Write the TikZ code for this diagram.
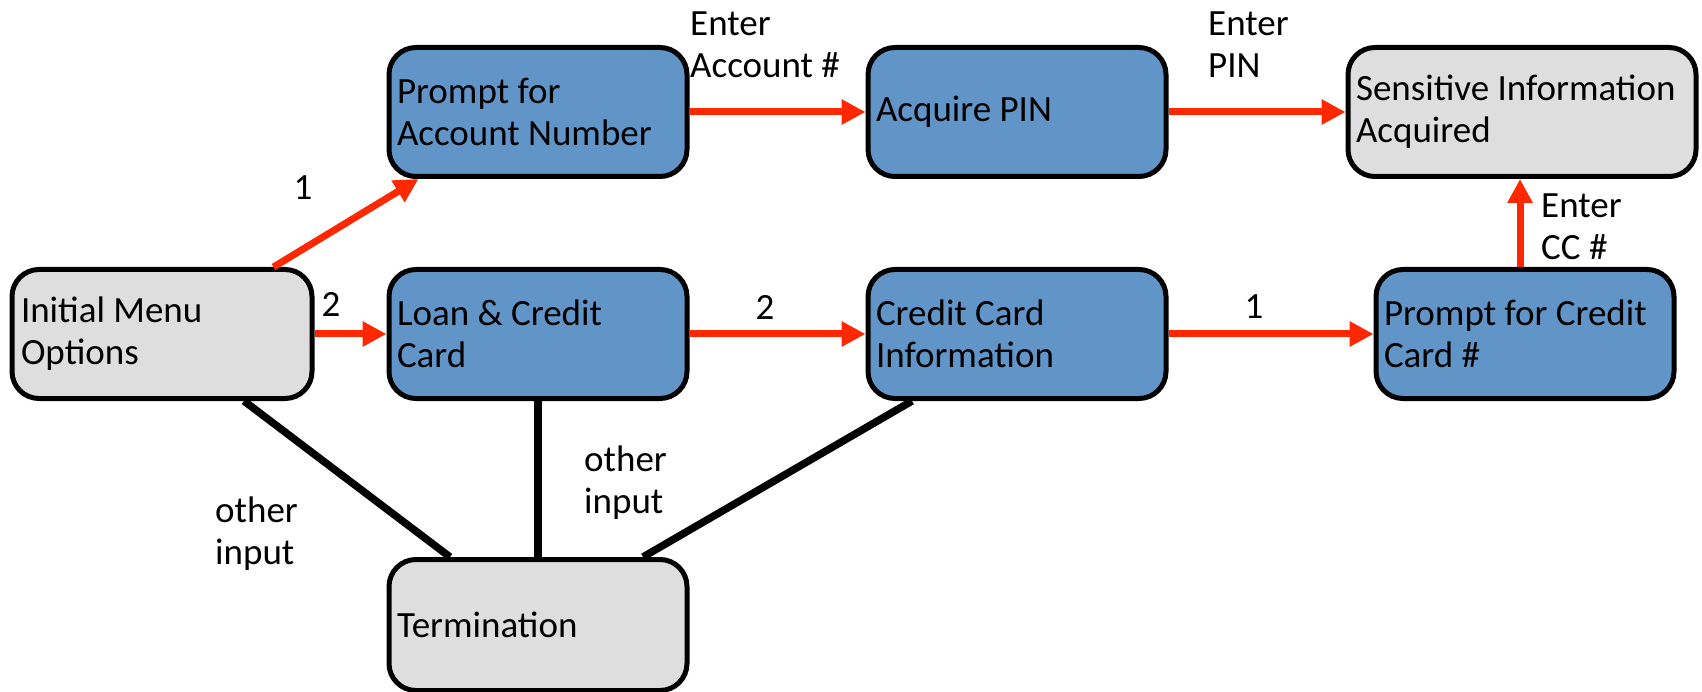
\documentclass[tikz,border=0pt]{standalone}
\usepackage{fontspec}
\setmainfont{Carlito}
\usetikzlibrary{arrows.meta}
\definecolor{boxblue}{HTML}{6195C8}
\definecolor{boxgray}{HTML}{DEDEDE}
\definecolor{flowred}{RGB}{255,40,0}
\tikzset{
  statebox/.style={draw=black, line width=5pt, rounded corners=27pt,
    minimum width=298pt, minimum height=129pt, text width=282pt,
    inner xsep=8pt, align=flush left, font=\fontsize{37}{42}\selectfont},
  bluebox/.style={statebox, fill=boxblue},
  graybox/.style={statebox, fill=boxgray},
  flow/.style={draw=flowred, line width=7pt, -{Triangle[length=24pt,width=24pt]}},
  quit/.style={draw=black, line width=7.5pt},
  lbl/.style={align=flush left, inner sep=0pt, font=\fontsize{37}{42}\selectfont},
}
\begin{document}
\begin{tikzpicture}[x=1pt, y=-1pt]
\useasboundingbox (0,0) rectangle (1702,692);

% states
\node[bluebox] (acct) at (538,112) {Prompt for\\Account Number};
\node[bluebox] (pin) at (1017,112) {Acquire PIN};
\node[graybox, minimum width=348pt, text width=332pt] (sens) at (1522,112) {Sensitive Information\\Acquired};
\node[graybox, minimum width=300pt] (init) at (162,334) {Initial Menu\\Options};
\node[bluebox] (loan) at (538,334) {Loan \& Credit\\Card};
\node[bluebox] (ccinfo) at (1017,334) {Credit Card\\Information};
\node[bluebox] (pcc) at (1525,334) {Prompt for Credit\\Card \#};
\node[graybox, minimum height=131pt] (term) at (538,625) {Termination};

% transitions on valid input
\draw[flow] ([xshift=-41pt]init.north east) -- ([xshift=32pt]acct.south west);
\draw[flow] (init.east) -- (loan.west);
\draw[flow] (acct.east) -- (pin.west);
\draw[flow] (pin.east) -- (sens.west);
\draw[flow] (loan.east) -- (ccinfo.west);
\draw[flow] (ccinfo.east) -- (pcc.west);
\draw[flow] ([xshift=-5pt]pcc.north) -- ([xshift=-5pt]pcc.north |- sens.south);

% transitions on other input
\draw[quit] ([xshift=82pt]init.south) -- ([xshift=-88pt]term.north);
\draw[quit] (loan.south) -- (term.north);
\draw[quit] ([xshift=-105pt]ccinfo.south) -- ([xshift=105pt]term.north);

% edge labels
\node[lbl] (l1) at (303,188) {1};
\node[lbl] (l2) at (331,304) {2};
\node[lbl, anchor=west] (lacct) at (690,45) {Enter\\Account \#};
\node[lbl, anchor=west] (lpin) at (1208,45) {Enter\\PIN};
\node[lbl, anchor=west] (lcc) at (1541,227) {Enter\\CC \#};
\node[lbl] (l3) at (765,307) {2};
\node[lbl] (l4) at (1254,307) {1};
\node[lbl, anchor=west] (lo1) at (215,534) {other\\input};
\node[lbl, anchor=west] (lo2) at (584,483) {other\\input};
\end{tikzpicture}
\end{document}
